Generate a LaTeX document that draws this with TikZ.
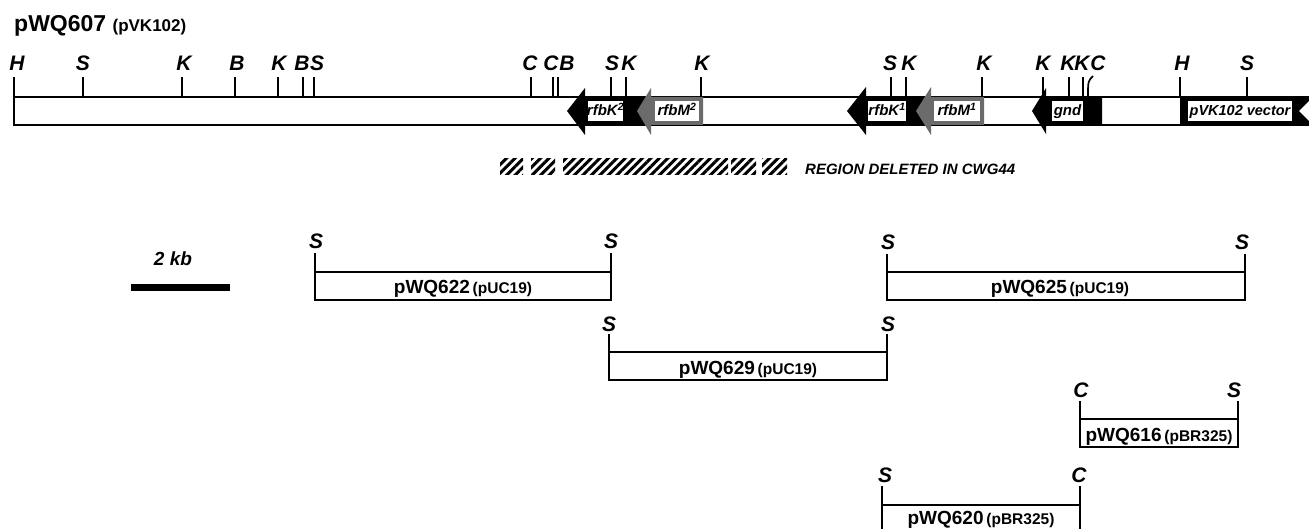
\documentclass[tikz,border=0pt]{standalone}
\usepackage{fontspec}
\setmainfont{Liberation Sans}
\usetikzlibrary{patterns.meta}
\newcommand{\fraglabel}[2]{{\fontsize{19}{19}\selectfont\bfseries #1} {\fontsize{15.5}{15.5}\selectfont\bfseries (#2)}}
\begin{document}
\begin{tikzpicture}[x=1pt,y=-1pt,
  sitelab/.style={font=\fontsize{21}{21}\selectfont\bfseries\itshape, inner sep=0pt, anchor=base},
  boxlab/.style={inner sep=0pt, anchor=base},
  genelab/.style={font=\fontsize{15}{15}\selectfont\bfseries\itshape, inner sep=0pt, anchor=base},
  genebox/.style={fill=white, draw=none},
  darkgene/.style={fill=black},
  graygene/.style={fill=black!58},
  tick/.style={line width=1.7pt},
  hatch/.style={pattern={Lines[angle=45,distance=6pt,line width=3pt]}},
  frag/.style={line width=2pt}]
\useasboundingbox (0,0) rectangle (1309,529);
\clip (0,0) rectangle (1309,529);

% title
\node[boxlab, anchor=base west, font=\fontsize{23}{23}\selectfont\bfseries] (title) at (14,32) {pWQ607 {\fontsize{17}{17}\selectfont (pVK102)}};

% main bar
\draw[line width=2pt] (14,97) -- (1309,97);
\draw[line width=2pt] (14,125) -- (1309,125);

% genes
\fill[darkgene] (567,111) -- (585,88) -- (585,97) -- (651,97) -- (651,125) -- (585,125) -- (585,135) -- cycle;
\fill[genebox] (588,101) rectangle (623,121);
\node[genelab] (rfbK2) at (605.5,116) {rfbK\textsuperscript{2}};
\fill[graygene] (637,111) -- (651,88) -- (651,97) -- (703,97) -- (703,125) -- (651,125) -- (651,135) -- cycle;
\fill[genebox] (655,101) rectangle (699,121);
\node[genelab] (rfbM2) at (677,116) {rfbM\textsuperscript{2}};

\fill[darkgene] (847,111) -- (866,87) -- (866,97) -- (931,97) -- (931,125) -- (866,125) -- (866,135) -- cycle;
\fill[genebox] (868,101) rectangle (906,121);
\node[genelab] (rfbK1) at (887,116) {rfbK\textsuperscript{1}};
\fill[graygene] (916,111) -- (931,87) -- (931,97) -- (984,97) -- (984,125) -- (931,125) -- (931,135) -- cycle;
\fill[genebox] (934,101) rectangle (980,121);
\node[genelab] (rfbM1) at (957,116) {rfbM\textsuperscript{1}};

\fill[darkgene] (1032,111) -- (1046,88) -- (1046,97) -- (1102,97) -- (1102,125) -- (1046,125) -- (1046,134) -- cycle;
\fill[genebox] (1052,101) rectangle (1083,121);
\node[genelab] (gnd) at (1067.5,116) {gnd};

\fill[darkgene] (1180,96) rectangle (1309,126);
\fill[genebox] (1188,101) rectangle (1292,121);
\fill[white] (1309,101) -- (1299,111) -- (1309,121) -- cycle;
\node[genelab, font=\fontsize{14.5}{14.5}\selectfont\bfseries\itshape] (vec) at (1240,116) {pVK102 vector};

% restriction sites on the map
\node[sitelab] (sH1) at (17,71) {H};
\coordinate (tH1) at (14,77);
\coordinate (bH1) at (14,126);
\draw[tick] (tH1) -- (bH1);
\foreach \x/\lx/\t/\n in {83/83/S/a, 182/184/K/b, 235/237/B/c, 278/279/K/d, 303/302/B/e, 314/317/S/f,
  531/530/C/g, 553/551/C/h, 558/567/B/i, 611/612/S/j, 626/629/K/k, 701/702/K/l,
  891/890/S/m, 906/909/K/n, 982/984/K/o, 1043/1043/K/p, 1069/1068/K/q, 1083/1082/K/r,
  1180/1182/H/s, 1247/1247/S/t}{
  \node[sitelab] (s\n) at (\lx,71) {\t};
  \coordinate (t\n) at (\x,77);
  \coordinate (b\n) at (\x,97);
  \draw[tick] (t\n) -- (b\n);
}
\node[sitelab] (sC9) at (1098,71) {C};
\coordinate (tC9) at (1093,76);
\coordinate (bC9) at (1088,97);
\draw[tick] (tC9) .. controls (1088,81) .. (bC9);

% deleted region
\fill[hatch] (500,159) rectangle (523,175);
\fill[hatch] (531,159) rectangle (555,175);
\fill[hatch] (563,159) rectangle (728,175);
\fill[hatch] (731,159) rectangle (756,175);
\fill[hatch] (762,159) rectangle (787,175);
\node[boxlab, anchor=base west, font=\fontsize{15}{15}\selectfont\bfseries\itshape] (del) at (805,175) {REGION DELETED IN CWG44};

% scale bar
\node[boxlab, font=\fontsize{19}{19}\selectfont\bfseries\itshape] (kb) at (173,266) {2 kb};
\fill (131,284) rectangle (230,291);

% fragments
% pWQ622
\draw[frag] (315,272) rectangle (611,300);
\node[sitelab] (f1a) at (316,249) {S};
\node[sitelab] (f1b) at (611,249) {S};
\draw[tick] (315,253) -- (315,272);
\draw[tick] (611,253) -- (611,272);
\node[boxlab] (f1) at (463,294) {\fraglabel{pWQ622}{pUC19}};
% pWQ625
\draw[frag] (887,272) rectangle (1245,300);
\node[sitelab] (f2a) at (888,250) {S};
\node[sitelab] (f2b) at (1242,250) {S};
\draw[tick] (887,254) -- (887,272);
\draw[tick] (1245,254) -- (1245,272);
\node[boxlab] (f2) at (1060,294) {\fraglabel{pWQ625}{pUC19}};
% pWQ629
\draw[frag] (609,352) rectangle (887,380);
\node[sitelab] (f3a) at (609,331) {S};
\node[sitelab] (f3b) at (888,331) {S};
\draw[tick] (609,334) -- (609,352);
\draw[tick] (887,334) -- (887,352);
\node[boxlab] (f3) at (748,374) {\fraglabel{pWQ629}{pUC19}};
% pWQ616
\draw[frag] (1080,419) rectangle (1238,447);
\node[sitelab] (f4a) at (1081,397) {C};
\node[sitelab] (f4b) at (1234,397) {S};
\draw[tick] (1080,401) -- (1080,419);
\draw[tick] (1238,401) -- (1238,419);
\node[boxlab] (f4) at (1159,441) {\fraglabel{pWQ616}{pBR325}};
% pWQ620
\draw[frag] (882,505) rectangle (1080,540);
\node[sitelab] (f5a) at (885,482) {S};
\node[sitelab] (f5b) at (1079,482) {C};
\draw[tick] (882,486) -- (882,505);
\draw[tick] (1080,486) -- (1080,505);
\node[boxlab] (f5) at (981,524) {\fraglabel{pWQ620}{pBR325}};
\end{tikzpicture}
\end{document}
